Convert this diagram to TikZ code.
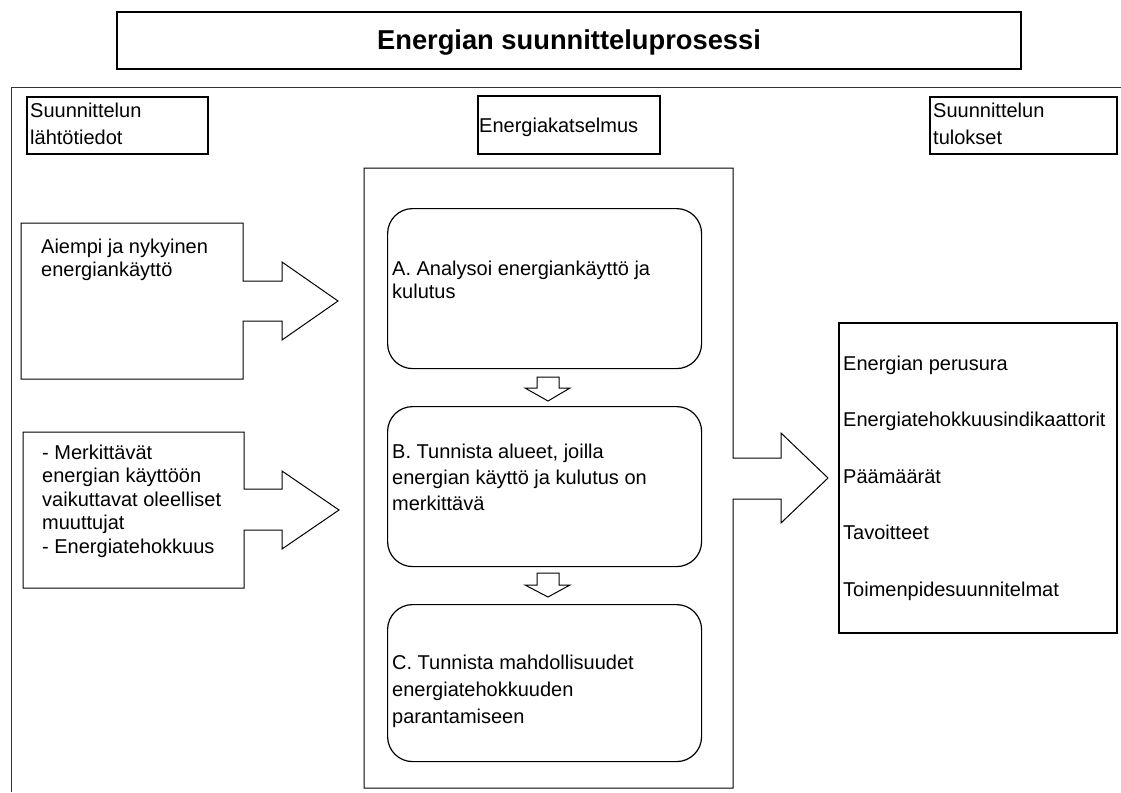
\documentclass[tikz,border=0pt]{standalone}
\usepackage{fontspec}
\setmainfont{Liberation Sans}
\begin{document}
\begin{tikzpicture}[x=1pt,y=-1pt,
  txt/.style={inner sep=0pt, anchor=base west, font=\fontsize{20}{24}\selectfont},
  hbox/.style={draw, line width=2pt, anchor=north west, inner sep=0pt},
  shapeline/.style={draw, line width=1pt, line join=miter},
  rbox/.style={draw, line width=1.2pt, rounded corners=25pt, anchor=north west, inner sep=0pt, minimum width=314pt, minimum height=160pt},
]
\useasboundingbox (0,0) rectangle (1121,792);

% title
\node[hbox, minimum width=904pt, minimum height=57pt] (title) at (116,11) {};
\node[inner sep=0pt, anchor=base, font=\fontsize{27.3}{32}\selectfont\bfseries] (titletext) at (569,49) {Energian suunnitteluprosessi};

% outer frame (cropped)
\draw[line width=1pt, draw=black!80] (1121,87) -- (11,87) -- (11,792);

% header boxes
\node[hbox, minimum width=181pt, minimum height=57pt] (lht) at (26,96) {};
\node[txt, font=\fontsize{20}{27}\selectfont] (lhttext) at (30,117) {\vtop{\hbox{Suunnittelun}\hbox{lähtötiedot}}};

\node[hbox, minimum width=182pt, minimum height=58pt] (ek) at (477,95) {};
\node[txt] (ektext) at (479,132) {Energiakatselmus};

\node[hbox, minimum width=187pt, minimum height=57pt] (tul) at (929,96) {};
\node[txt, font=\fontsize{20}{27}\selectfont] (tultext) at (933,117) {\vtop{\hbox{Suunnittelun}\hbox{tulokset}}};

% central frame with right block arrow
\draw[shapeline] (364,168) -- (733,168) -- (733,458) -- (781,458) -- (781,433) -- (828,478)
  -- (781,523) -- (781,499) -- (733,499) -- (733,788) -- (364,788) -- cycle;

% left input box 1 with block arrow
\draw[shapeline] (21,223) -- (243,223) -- (243,281) -- (282,281) -- (282,262) -- (338,301)
  -- (282,340) -- (282,321) -- (243,321) -- (243,379) -- (21,379) -- cycle;
\node[txt, font=\fontsize{20}{23.5}\selectfont] (in1) at (41,253) {\vtop{\hbox{Aiempi ja nykyinen}\hbox{energiankäyttö}}};

% left input box 2 with block arrow
\draw[shapeline] (23,432) -- (244,432) -- (244,489) -- (282,489) -- (282,471) -- (339,510)
  -- (282,549) -- (282,530) -- (244,530) -- (244,588) -- (23,588) -- cycle;
\node[txt, font=\fontsize{20}{23.5}\selectfont] (in2) at (42,459) {\vtop{\hbox{- Merkittävät}\hbox{energian käyttöön}\hbox{vaikuttavat oleelliset}\hbox{muuttujat}\hbox{- Energiatehokkuus}}};

% steps
\node[rbox] (A) at (387,208) {};
\node[txt, font=\fontsize{20}{23.5}\selectfont] (Atext) at (392,275) {\vtop{\hbox{A. Analysoi energiankäyttö ja}\hbox{kulutus}}};

\node[rbox] (B) at (387,406) {};
\node[txt, font=\fontsize{20}{26}\selectfont] (Btext) at (392,458) {\vtop{\hbox{B. Tunnista alueet, joilla}\hbox{energian käyttö ja kulutus on}\hbox{merkittävä}}};

\node[rbox, minimum height=157pt] (C) at (387,604) {};
\node[txt, font=\fontsize{20}{27}\selectfont] (Ctext) at (392,669) {\vtop{\hbox{C. Tunnista mahdollisuudet}\hbox{energiatehokkuuden}\hbox{parantamiseen}}};

% small down block arrows
\draw[shapeline] (537,377) -- (559,377) -- (559,388) -- (570,388) -- (548,401) -- (525,388) -- (537,388) -- cycle;
\draw[shapeline] (537,573) -- (559,573) -- (559,585) -- (570,585) -- (548,597) -- (525,585) -- (537,585) -- cycle;

% results box
\node[hbox, minimum width=278pt, minimum height=310pt] (res) at (838,322) {};
\node[txt, font=\fontsize{20}{56.5}\selectfont] (restext) at (843,370) {\vtop{\hbox{Energian perusura}\hbox{Energiatehokkuusindikaattorit}\hbox{Päämäärät}\hbox{Tavoitteet}\hbox{Toimenpidesuunnitelmat}}};
\end{tikzpicture}
\end{document}
